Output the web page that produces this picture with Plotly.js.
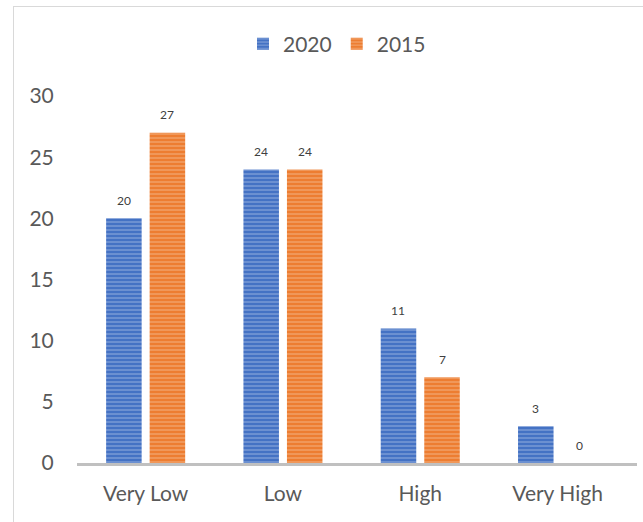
<!DOCTYPE html>
<html>
<head>
<meta charset="utf-8">
<script src="https://cdn.plot.ly/plotly-3.0.1.min.js"></script>
<style>
  html, body { margin: 0; padding: 0; background: #fff; }
  #wrap { position: relative; width: 643px; height: 522px; }
  #chart { position: absolute; left: 0; top: 0; width: 643px; height: 522px; }
  #frame { position: absolute; left: 13px; top: 6px; width: 640px; height: 530px;
           border-left: 1px solid #d9d9d9; border-top: 1px solid #d9d9d9; pointer-events: none; }
</style>
</head>
<body>
<div id="wrap">
  <div id="chart"></div>
  <div id="frame"></div>
</div>
<script>
// Categories and values per year
const categories = ['Very Low', 'Low', 'High', 'Very High'];
const values2020 = [20, 24, 11, 3];
const values2015 = [27, 24, 7, 0];
const seriesNames = ['2020', '2015'];
const yTicks = [0, 5, 10, 15, 20, 25, 30];

const W = 643, H = 522;
const margin = { l: 77, r: 6, t: 96, b: 59 };
const plotW = W - margin.l - margin.r;
const pxPerCat = 137.3;
const xMax = -0.5 + plotW / pxPerCat;
const bargap = 0.366;
const slotPx = pxPerCat * (1 - bargap) / 2;

const textCol = '#595959';
const font = 'Lato, "Liberation Sans", sans-serif';

function barTrace(name, vals, base, stripe) {
  return {
    type: 'bar',
    name: name,
    x: categories,
    y: vals,
    marker: {
      color: base,
      line: { width: 0 },
      pattern: { shape: '-', fillmode: 'overlay', fgcolor: stripe, size: 4, solidity: 0.3 }
    },
    hoverinfo: 'x+y+name'
  };
}

const traces = [
  barTrace(seriesNames[0], values2020, '#4472C4', '#c8d5ef'),
  barTrace(seriesNames[1], values2015, '#ED7D31', '#f9d3b8')
];

// value labels above each bar
const annotations = [];
[values2020, values2015].forEach((vals, s) => {
  vals.forEach((v, i) => {
    annotations.push({
      x: categories[i], y: v, xref: 'x', yref: 'y',
      text: String(v), showarrow: false,
      xshift: (s === 0 ? -1 : 1) * slotPx / 2,
      yshift: 18, yanchor: 'middle',
      font: { family: font, size: 12, color: '#404040' }
    });
  });
});

const layout = {
  width: W, height: H,
  margin: margin,
  paper_bgcolor: '#fff', plot_bgcolor: '#fff',
  barmode: 'group',
  bargap: bargap,
  bargroupgap: 0.184,
  showlegend: true,
  legend: {
    orientation: 'h', x: 0.5 - 20 / plotW, xanchor: 'center',
    y: 1 + (96 - 44) / (H - margin.t - margin.b), yanchor: 'middle',
    font: { family: font, size: 21, color: textCol },
    traceorder: 'normal'
  },
  xaxis: {
    type: 'category',
    range: [-0.5, xMax],
    showgrid: false, zeroline: false,
    showline: true, linecolor: '#c0c0c0', linewidth: 3,
    ticks: 'outside', ticklen: 10, tickcolor: 'rgba(0,0,0,0)',
    tickfont: { family: font, size: 21, color: textCol },
    fixedrange: true
  },
  yaxis: {
    range: [0, 30],
    tickvals: yTicks,
    showgrid: false, zeroline: false, showline: false,
    ticks: 'outside', ticklen: 18, tickcolor: 'rgba(0,0,0,0)',
    tickfont: { family: font, size: 21, color: textCol },
    fixedrange: true
  },
  annotations: annotations
};

Plotly.newPlot('chart', traces, layout, { displayModeBar: false, staticPlot: true });
</script>
</body>
</html>
